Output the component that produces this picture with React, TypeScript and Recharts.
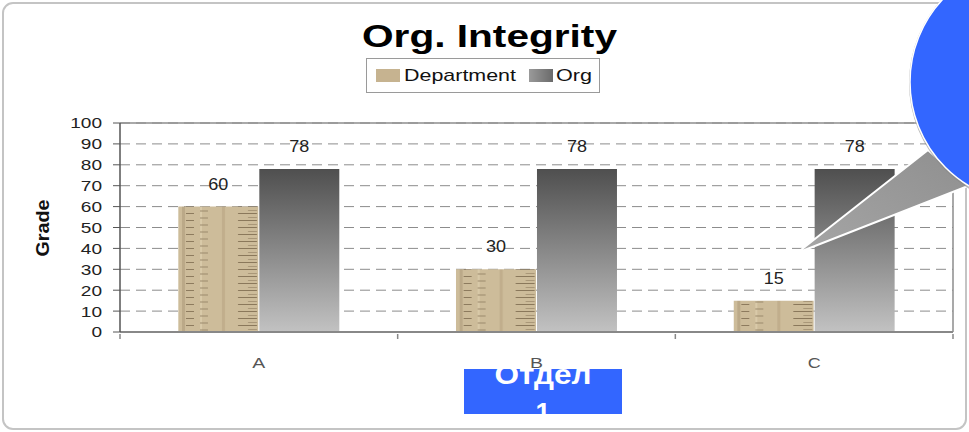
import { BarChart, Bar, XAxis, YAxis, CartesianGrid, Legend, LabelList, ReferenceLine } from "recharts";

const CATEGORIES = ["A", "B", "C"];
const DEPARTMENT = [60, 30, 15];
const ORG = [78, 78, 78];
const Y_TICKS = [0, 10, 20, 30, 40, 50, 60, 70, 80, 90, 100];

const data = CATEGORIES.map((cat, i) => ({ cat, department: DEPARTMENT[i], org: ORG[i] }));

const FONT = "'Liberation Sans', Arial, sans-serif";

function YTick(props: { x?: number; y?: number; payload?: { value?: number } }) {
  const v = String(props.payload?.value ?? "");
  return (
    <text x={props.x} y={props.y} dy="0.36em" textAnchor="end" fill="#222" fontSize={15}
      fontFamily={FONT} textLength={v.length * 10.6} lengthAdjust="spacingAndGlyphs">
      {v}
    </text>
  );
}

function XTick(props: { x?: number; y?: number; index?: number; payload?: { value?: string; offset?: number } }) {
  const x = props.x ?? 0;
  const y = props.y ?? 0;
  const half = props.payload?.offset || 138.8;
  const last = props.index === CATEGORIES.length - 1;
  return (
    <g>
      <line x1={x - half} x2={x - half} y1={y} y2={y + 5} stroke="#888" strokeWidth={1.5} />
      {last && <line x1={x + half} x2={x + half} y1={y} y2={y + 5} stroke="#888" strokeWidth={1.5} />}
      <text x={x} y={y + 34} textAnchor="middle" fill="#555" fontSize={15} fontFamily={FONT}
        textLength={13} lengthAdjust="spacingAndGlyphs">
        {props.payload?.value}
      </text>
    </g>
  );
}

function BarValue(props: { x?: number; y?: number; width?: number; value?: number }) {
  const cx = (props.x ?? 0) + (props.width ?? 0) / 2;
  return (
    <text x={cx} y={(props.y ?? 0) - 17} textAnchor="middle" fill="#222" fontSize={16} fontFamily={FONT}
      textLength={20} lengthAdjust="spacingAndGlyphs">
      {props.value}
    </text>
  );
}

function GradeLabel() {
  return (
    <text x={0} y={0} transform="translate(49 228) rotate(-90)" textAnchor="middle" fill="#111" fontSize={18}
      fontWeight={700} fontFamily={FONT} textLength={57} lengthAdjust="spacingAndGlyphs">
      Grade
    </text>
  );
}

function LegendBox() {
  return (
    <svg width={234} height={35} style={{ display: "block" }}>
      <rect x={0.5} y={0.5} width={233} height={34} fill="#fff" stroke="#9a9a9a" />
      <rect x={10} y={11} width={24} height={13} fill="#c6b390" />
      <text x={38} y={23} fontSize={17} fontFamily={FONT} fill="#111" textLength={112} lengthAdjust="spacingAndGlyphs">Department</text>
      <rect x={163} y={11} width={24} height={13} fill="url(#orgLegend)" />
      <text x={190} y={23} fontSize={17} fontFamily={FONT} fill="#111" textLength={36} lengthAdjust="spacingAndGlyphs">Org</text>
      <defs>
        <linearGradient id="orgLegend" x1="0" y1="0" x2="1" y2="0">
          <stop offset="0%" stopColor="#9a9a9a" />
          <stop offset="100%" stopColor="#6a6a6a" />
        </linearGradient>
      </defs>
    </svg>
  );
}

export default function App() {
  return (
    <div style={{ position: "absolute", left: 0, top: 0, width: 969, height: 432, background: "#fff", overflow: "hidden" }}>
      <svg width={969} height={432} style={{ position: "absolute", left: 0, top: 0 }}>
        <rect x={3} y={3} width={963} height={426} rx={10} fill="#fff" stroke="#c4c4c4" strokeWidth={2} />
      </svg>
      <div style={{ position: "absolute", left: 0, top: 0 }}>
        <BarChart width={969} height={432} data={data} margin={{ top: 123, right: 0, bottom: 70, left: 60 }}
          barCategoryGap="21%" barGap={1}>
          <defs>
            <linearGradient id="orgFill" x1="0" y1="0" x2="0" y2="1">
              <stop offset="0%" stopColor="#4f4f4f" />
              <stop offset="55%" stopColor="#8e8e8e" />
              <stop offset="100%" stopColor="#c2c2c2" />
            </linearGradient>
            <pattern id="ruler" patternUnits="userSpaceOnUse" x={178} y={0} width={277.67} height={7}>
              <rect x={0} y={0} width={81} height={7} fill="#cdbc9a" />
              <rect x={4} y={0} width={3} height={7} fill="#bba988" />
              <rect x={22} y={0} width={2} height={7} fill="#d9caa9" />
              <rect x={44} y={0} width={3} height={7} fill="#c1ae8c" />
              <line x1={8} x2={16} y1={3.5} y2={3.5} stroke="#8d7b5e" strokeWidth={1} />
              <line x1={22} x2={30} y1={1} y2={1} stroke="#9c8a6c" strokeWidth={1} />
              <line x1={60} x2={79} y1={3.5} y2={3.5} stroke="#8a785b" strokeWidth={1} />
              <line x1={70} x2={79} y1={0.5} y2={0.5} stroke="#a08e70" strokeWidth={0.8} />
            </pattern>
          </defs>
          <CartesianGrid vertical={false} stroke="#8c8c8c" strokeDasharray="10 6" />
          <ReferenceLine y={100} stroke="#8c8c8c" strokeWidth={1.5} />
          <XAxis dataKey="cat" height={30} axisLine={{ stroke: "#888", strokeWidth: 2 }} tickLine={false} tickSize={0}
            tick={<XTick />} interval={0} />
          <YAxis domain={[0, 100]} ticks={Y_TICKS} interval={0} width={60} tickSize={7} tickMargin={11}
            axisLine={{ stroke: "#555", strokeWidth: 1.5 }} tickLine={{ stroke: "#555" }} tick={<YTick />}
            label={{ content: <GradeLabel /> }} />
          <YAxis yAxisId="right" orientation="right" domain={[0, 100]} width={16} tick={false} tickLine={false}
            axisLine={{ stroke: "#8c8c8c", strokeWidth: 1.5 }} />
          <Legend layout="horizontal" verticalAlign="middle" content={<LegendBox />}
            wrapperStyle={{ position: "absolute", left: 366, top: 58, width: 234, height: 35 }} />
          <Bar dataKey="department" name="Department" fill="url(#ruler)" isAnimationActive={false}>
            <LabelList dataKey="department" content={<BarValue />} />
          </Bar>
          <Bar dataKey="org" name="Org" fill="url(#orgFill)" isAnimationActive={false}>
            <LabelList dataKey="org" content={<BarValue />} />
          </Bar>
        </BarChart>
      </div>
      <svg width={969} height={432} style={{ position: "absolute", left: 0, top: 0, pointerEvents: "none" }}>
        <defs>
          <linearGradient id="wedge" x1="0" y1="1" x2="1" y2="0">
            <stop offset="0%" stopColor="#a6a6a6" />
            <stop offset="100%" stopColor="#8f8f8f" />
          </linearGradient>
          <clipPath id="tag">
            <rect x={464} y={369} width={158} height={45} />
          </clipPath>
        </defs>
        <text x={489.5} y={47} textAnchor="middle" fontSize={31} fontWeight={700} fontFamily={FONT} fill="#000"
          textLength={255} lengthAdjust="spacingAndGlyphs">Org. Integrity</text>
        <polygon points="797,253 928,150 968,186" fill="url(#wedge)" stroke="#fff" strokeWidth={2} />
        <circle cx={1032} cy={83} r={123} fill="#888" opacity={0.6} />
        <circle cx={1031} cy={82} r={121} fill="#3366ff" stroke="#fff" strokeWidth={1.5} />
        <rect x={464} y={369} width={158} height={45} fill="#3366ff" />
        <g clipPath="url(#tag)" fill="#fff" fontFamily={FONT} fontWeight={700} fontSize={27} textAnchor="middle">
          <text x={543} y={384} textLength={97} lengthAdjust="spacingAndGlyphs">Отдел</text>
          <text x={543} y={422}>1</text>
        </g>
      </svg>
    </div>
  );
}
